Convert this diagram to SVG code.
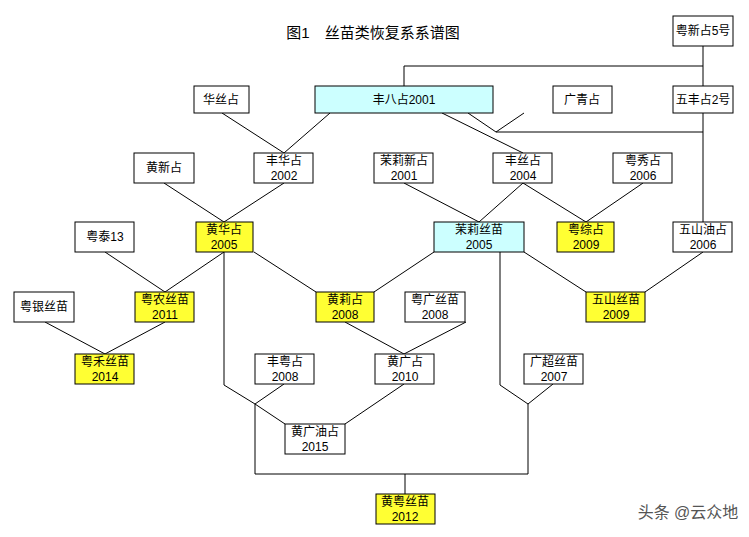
<svg xmlns="http://www.w3.org/2000/svg" width="749" height="537" viewBox="0 0 749 537">
<style>
rect{stroke:#000;stroke-width:1;fill:#fff}
.y{fill:#ffff33}.c{fill:#ccffff}
text{font-family:"Liberation Sans","Noto Sans CJK SC",sans-serif;font-size:12px;text-anchor:middle;fill:#000}
#conn path{fill:none;stroke:#000;stroke-width:1}
</style>
<rect x="0" y="0" width="749" height="537" style="fill:#fff;stroke:none"/>
<text x="373" y="38" style="font-size:15px">图1　丝苗类恢复系系谱图</text>
<g id="conn">
<path d="M703 46V222M703 66H404V86M703 132H496L468 113M524 113L496 132"/>
<path d="M222 113L284 153M330 113L284 153M442 113L523 153"/>
<path d="M164 183L224 222M284 183L224 222M404 183L479 222M523 183L479 222M523 183L586 222M643 183L586 222"/>
<path d="M105 252L165 292M224 252L165 292M254 252L316 292M434 252L374 292M524 252L586 292M703 252L645 292"/>
<path d="M45 322L105 354M165 322L105 354M345 322L404 354M466 322L404 354"/>
<path d="M224 252V385L255 404L285 424M284 384L255 404V474H528V404L500 385V252M553 384L528 404M404 384L345 424M405 474V494"/>
</g>
<g id="n1"><rect x="673" y="16" width="60" height="30"/><text x="703" y="35">粤新占5号</text></g>
<g id="n2"><rect x="673" y="86" width="60" height="27"/><text x="703" y="104">五丰占2号</text></g>
<g id="n3"><rect x="194" y="86" width="55" height="27"/><text x="221" y="104">华丝占</text></g>
<g id="n4"><rect class="c" x="315" y="86" width="178" height="27"/><text x="404" y="104">丰八占2001</text></g>
<g id="n5"><rect x="553" y="86" width="59" height="27"/><text x="582" y="104">广青占</text></g>
<g id="n6"><rect x="134" y="153" width="60" height="30"/><text x="164" y="172">黄新占</text></g>
<g id="n7"><rect x="254" y="153" width="59" height="30"/><text x="284" y="165">丰华占</text><text x="284" y="180">2002</text></g>
<g id="n8"><rect x="374" y="153" width="59" height="30"/><text x="404" y="165">茉莉新占</text><text x="404" y="180">2001</text></g>
<g id="n9"><rect x="493" y="153" width="59" height="30"/><text x="523" y="165">丰丝占</text><text x="523" y="180">2004</text></g>
<g id="n10"><rect x="613" y="153" width="59" height="30"/><text x="643" y="165">粤秀占</text><text x="643" y="180">2006</text></g>
<g id="n11"><rect x="75" y="222" width="59" height="30"/><text x="105" y="241">粤泰13</text></g>
<g id="n12"><rect class="y" x="196" y="222" width="57" height="30"/><text x="224" y="234">黄华占</text><text x="224" y="249">2005</text></g>
<g id="n13"><rect class="c" x="434" y="222" width="90" height="30"/><text x="479" y="234">茉莉丝苗</text><text x="479" y="249">2005</text></g>
<g id="n14"><rect class="y" x="557" y="222" width="57" height="30"/><text x="586" y="234">粤综占</text><text x="586" y="249">2009</text></g>
<g id="n15"><rect x="673" y="222" width="59" height="30"/><text x="703" y="234">五山油占</text><text x="703" y="249">2006</text></g>
<g id="n16"><rect x="14" y="292" width="60" height="30"/><text x="44" y="311">粤银丝苗</text></g>
<g id="n17"><rect class="y" x="135" y="292" width="59" height="30"/><text x="165" y="304">粤农丝苗</text><text x="165" y="319">2011</text></g>
<g id="n18"><rect class="y" x="316" y="292" width="58" height="30"/><text x="345" y="304">黄莉占</text><text x="345" y="319">2008</text></g>
<g id="n19"><rect x="405" y="292" width="60" height="30"/><text x="435" y="304">粤广丝苗</text><text x="435" y="319">2008</text></g>
<g id="n20"><rect class="y" x="586" y="292" width="59" height="30"/><text x="616" y="304">五山丝苗</text><text x="616" y="319">2009</text></g>
<g id="n21"><rect class="y" x="75" y="354" width="59" height="30"/><text x="105" y="366">粤禾丝苗</text><text x="105" y="381">2014</text></g>
<g id="n22"><rect x="255" y="354" width="59" height="30"/><text x="285" y="366">丰粤占</text><text x="285" y="381">2008</text></g>
<g id="n23"><rect x="375" y="354" width="59" height="30"/><text x="405" y="366">黄广占</text><text x="405" y="381">2010</text></g>
<g id="n24"><rect x="524" y="354" width="59" height="30"/><text x="554" y="366">广超丝苗</text><text x="554" y="381">2007</text></g>
<g id="n25"><rect x="285" y="424" width="60" height="30"/><text x="315" y="436">黄广油占</text><text x="315" y="451">2015</text></g>
<g id="n26"><rect class="y" x="376" y="494" width="59" height="30"/><text x="405" y="506">黄粤丝苗</text><text x="405" y="521">2012</text></g>
<text x="688" y="518" style="font-size:16px;fill:#555">头条 @云众地</text>
</svg>
